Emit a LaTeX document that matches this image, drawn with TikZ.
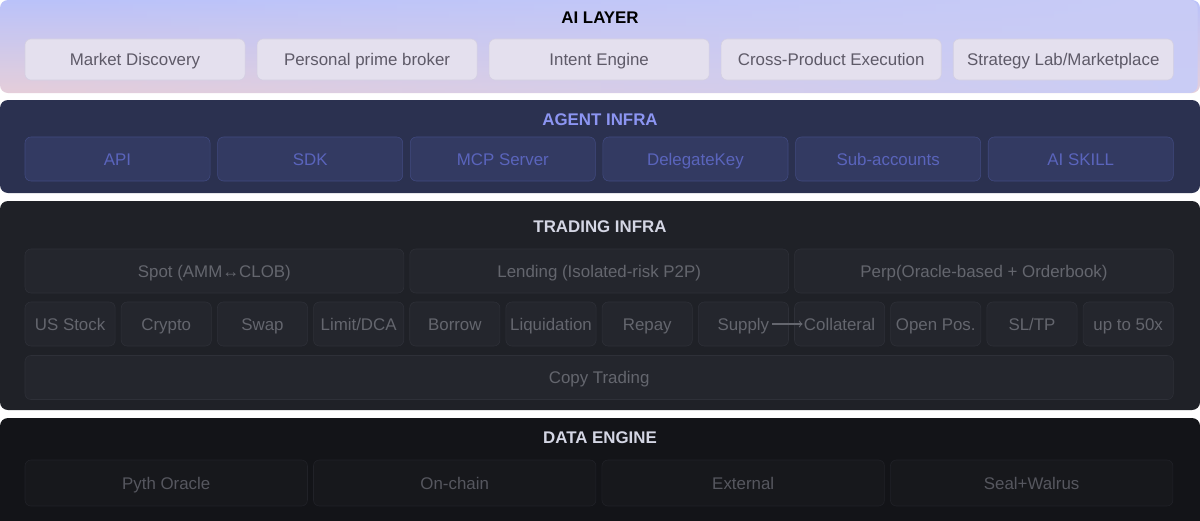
\documentclass[tikz,border=0pt]{standalone}
\usepackage{fontspec}
\setmainfont{Liberation Sans}
\usetikzlibrary{positioning,fadings}
\definecolor{aitop}{HTML}{BAC2FA}
\definecolor{aibot}{HTML}{E6CFDA}
\definecolor{ailav}{HTML}{C9CCF6}
\definecolor{aifill}{HTML}{E4E0EE}
\definecolor{aiedge}{HTML}{D3CFE2}
\definecolor{aitext}{HTML}{5E5A68}
\definecolor{agpanel}{HTML}{2B3150}
\definecolor{agfill}{HTML}{333A62}
\definecolor{agedge}{HTML}{414A80}
\definecolor{agtext}{HTML}{5A64BC}
\definecolor{agtitle}{HTML}{8C95F2}
\definecolor{trpanel}{HTML}{1F2127}
\definecolor{trfill}{HTML}{24262D}
\definecolor{tredge}{HTML}{2E3038}
\definecolor{trtext}{HTML}{64666E}
\definecolor{dapanel}{HTML}{131418}
\definecolor{dafill}{HTML}{17181C}
\definecolor{daedge}{HTML}{212228}
\definecolor{datext}{HTML}{56575F}
\definecolor{titlelight}{HTML}{D4D6E4}

\begin{document}
\begin{tikzpicture}[x=0.025cm, y=-0.025cm, node distance=0.15cm,
  title/.style = {font=\fontsize{12}{14}\selectfont\bfseries},
  label/.style = {inner sep=2pt, outer sep=0pt, text height=8.6pt, text depth=0pt, font=\fontsize{12}{14}\selectfont},
  box/.style = {label, draw, rounded corners=0.15cm, inner sep=1pt},
  aibox/.style = {box, draw=aiedge, fill=aifill, text=aitext, minimum width=5.5cm, minimum height=1.025cm},
  agbox/.style = {box, draw=agedge, fill=agfill, text=agtext, minimum width=4.625cm, minimum height=1.1cm},
  trbox/.style = {box, draw=tredge, fill=trfill, text=trtext, minimum height=1.1cm},
  dabox/.style = {box, draw=daedge, fill=dafill, text=datext, minimum width=7.06cm, minimum height=1.15cm}]
\useasboundingbox (0,0) rectangle (1200,520);
\fill[white] (0,0) rectangle (1200,520);
\shade[rounded corners=0.2cm, top color=aitop, bottom color=aibot] (0,0) rectangle (1200,93);
\fill[rounded corners=0.2cm, ailav, path fading=west] (0,0) rectangle (1200,93);
\fill[rounded corners=0.2cm, agpanel] (0,100) rectangle (1200,193);
\fill[rounded corners=0.2cm, trpanel] (0,201) rectangle (1200,410);
\fill[rounded corners=0.2cm, dapanel] (0,418) rectangle (1200,530);

\node[title, text=black] (ailayer) at (600,18) {AI LAYER};
\node[aibox, anchor=west] (md) at (25,59.5) {Market Discovery};
\node[aibox, right=0.3cm of md] (ppb) {Personal prime broker};
\node[aibox, right=0.3cm of ppb] (ie) {Intent Engine};
\node[aibox, right=0.3cm of ie] (cpe) {Cross-Product Execution};
\node[aibox, right=0.3cm of cpe] (slm) {Strategy Lab/Marketplace};

\node[title, text=agtitle] (agent) at (600,120) {AGENT INFRA};
\node[agbox, anchor=west] (api) at (25,159) {API};
\node[agbox, right=0.19cm of api] (sdk) {SDK};
\node[agbox, right=0.19cm of sdk] (mcp) {MCP Server};
\node[agbox, right=0.19cm of mcp] (dk) {DelegateKey};
\node[agbox, right=0.19cm of dk] (sub) {Sub-accounts};
\node[agbox, right=0.19cm of sub] (skill) {AI SKILL};

\node[title, text=titlelight] (trading) at (600,227) {TRADING INFRA};
\node[trbox, minimum width=9.467cm, anchor=west] (spot) at (25,271) {Spot (AMM↔CLOB)};
\node[trbox, minimum width=9.467cm, right=0.15cm of spot] (lend) {Lending (Isolated-risk P2P)};
\node[trbox, minimum width=9.467cm, right=0.15cm of lend] (perp) {Perp(Oracle-based + Orderbook)};
\node[trbox, minimum width=2.254cm, anchor=west] (usstock) at (25,324) {US Stock};
\node[trbox, minimum width=2.254cm, right=0.15cm of usstock] (crypto) {Crypto};
\node[trbox, minimum width=2.254cm, right=0.15cm of crypto] (swap) {Swap};
\node[trbox, minimum width=2.254cm, right=0.15cm of swap] (dca) {Limit/DCA};
\node[trbox, minimum width=2.254cm, right=0.15cm of dca] (borrow) {Borrow};
\node[trbox, minimum width=2.254cm, right=0.15cm of borrow] (liq) {Liquidation};
\node[trbox, minimum width=2.254cm, right=0.15cm of liq] (repay) {Repay};
\node[trbox, minimum width=2.254cm, right=0.15cm of repay] (supplycell) {};
\node[trbox, minimum width=2.254cm, right=0.15cm of supplycell] (collatcell) {};
\node[trbox, minimum width=2.254cm, right=0.15cm of collatcell] (openpos) {Open Pos.};
\node[trbox, minimum width=2.254cm, right=0.15cm of openpos] (sltp) {SL/TP};
\node[trbox, minimum width=2.254cm, right=0.15cm of sltp] (lev) {up to 50x};
\node[label, text=trtext] (supply) at (supplycell) {Supply};
\node[label, text=trtext, inner sep=1pt] (collat) at (collatcell) {Collateral};
\draw[->, trtext, thick] (supply) -- (collat);
\node[trbox, minimum width=28.7cm, anchor=west] (copy) at (25,377.5) {Copy Trading};

\node[title, text=titlelight] (data) at (600,438) {DATA ENGINE};
\node[dabox, anchor=west] (pyth) at (25,483) {Pyth Oracle};
\node[dabox, right=0.15cm of pyth] (onchain) {On-chain};
\node[dabox, right=0.15cm of onchain] (ext) {External};
\node[dabox, right=0.15cm of ext] (seal) {Seal+Walrus};
\end{tikzpicture}
\end{document}
